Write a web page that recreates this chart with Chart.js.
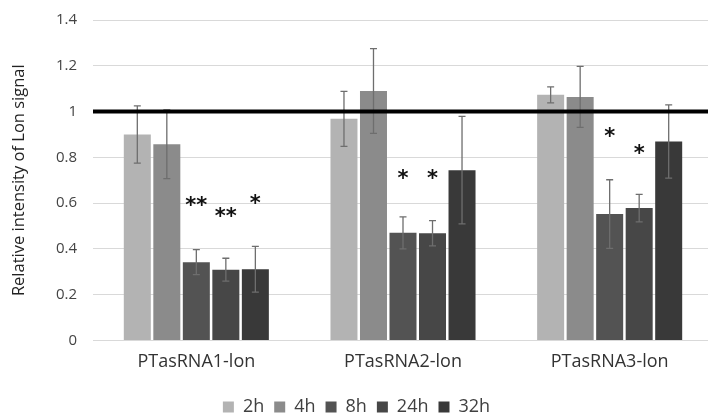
<!DOCTYPE html>
<html>
<head>
<meta charset="utf-8">
<script src="https://cdn.jsdelivr.net/npm/chart.js@4"></script>
<style>
  body { margin: 0; overflow: hidden; background: #fff; }
  #wrap { width: 716px; height: 426px; position: relative; }
</style>
</head>
<body>
<div id="wrap"><canvas id="chart"></canvas></div>
<script>
const groups = ['PTasRNA1-lon', 'PTasRNA2-lon', 'PTasRNA3-lon'];
const times = ['2h', '4h', '8h', '24h', '32h'];
const colors = ['#b3b3b3', '#8b8b8b', '#535353', '#474747', '#393939'];

// means per time point, one entry per group
const v2h = [0.90, 0.968, 1.073];
const v4h = [0.857, 1.09, 1.064];
const v8h = [0.342, 0.47, 0.552];
const v24h = [0.309, 0.468, 0.578];
const v32h = [0.311, 0.744, 0.869];

// error bar half-widths
const e2h = [0.125, 0.12, 0.035];
const e4h = [0.15, 0.185, 0.133];
const e8h = [0.055, 0.07, 0.15];
const e24h = [0.05, 0.055, 0.06];
const e32h = [0.10, 0.235, 0.16];

// significance marks and the height they sit at
const star8h = ['**', '*', '*'];
const starY8h = [0.61, 0.728, 0.91];
const star24h = ['**', '*', '*'];
const starY24h = [0.56, 0.728, 0.837];
const star32h = ['*', '', ''];
const starY32h = [0.62, null, null];

const yTicks = [0, 0.2, 0.4, 0.6, 0.8, 1, 1.2, 1.4];
const refLine = 1;

const values = [v2h, v4h, v8h, v24h, v32h];
const errors = [e2h, e4h, e8h, e24h, e32h];
const stars = [null, null, star8h, star24h, star32h];
const starY = [null, null, starY8h, starY24h, starY32h];

const font = "'Open Sans', 'Liberation Sans', sans-serif";

const extras = {
    id: 'extras',
    afterDatasetsDraw(chart) {
        const ctx = chart.ctx;
        const y = chart.scales.y;
        const area = chart.chartArea;
        ctx.save();
        // error bars
        ctx.strokeStyle = '#6e6e6e';
        ctx.lineWidth = 1.3;
        chart.data.datasets.forEach((ds, i) => {
            const meta = chart.getDatasetMeta(i);
            meta.data.forEach((bar, j) => {
                const v = ds.data[j], e = errors[i][j];
                const top = y.getPixelForValue(v + e);
                const bot = y.getPixelForValue(v - e);
                ctx.beginPath();
                ctx.moveTo(bar.x, top); ctx.lineTo(bar.x, bot);
                ctx.moveTo(bar.x - 3.5, top); ctx.lineTo(bar.x + 3.5, top);
                ctx.moveTo(bar.x - 3.5, bot); ctx.lineTo(bar.x + 3.5, bot);
                ctx.stroke();
            });
        });
        // reference line at 1
        const ry = y.getPixelForValue(refLine);
        ctx.strokeStyle = '#000';
        ctx.lineWidth = 4;
        ctx.beginPath();
        ctx.moveTo(area.left, ry);
        ctx.lineTo(area.right, ry);
        ctx.stroke();
        // asterisks
        ctx.fillStyle = '#111';
        ctx.font = "bold 21px 'DejaVu Sans', sans-serif";
        ctx.textAlign = 'center';
        ctx.textBaseline = 'alphabetic';
        chart.data.datasets.forEach((ds, i) => {
            if (!stars[i]) return;
            const meta = chart.getDatasetMeta(i);
            meta.data.forEach((bar, j) => {
                const s = stars[i][j];
                if (!s) return;
                const py = y.getPixelForValue(starY[i][j]);
                ctx.fillText(s, bar.x, py + 11);
            });
        });
        ctx.restore();
    }
};

new Chart(document.getElementById('chart'), {
    type: 'bar',
    data: {
        labels: groups,
        datasets: times.map((t, i) => ({
            label: t,
            data: values[i],
            backgroundColor: colors[i],
            borderWidth: 0,
            categoryPercentage: 0.714,
            barPercentage: 0.915
        }))
    },
    options: {
        responsive: true,
        maintainAspectRatio: false,
        animation: false,
        layout: { padding: { top: 20, right: 3, left: 0, bottom: 0 } },
        plugins: {
            tooltip: { enabled: false },
            legend: {
                position: 'bottom',
                labels: {
                    boxWidth: 11,
                    boxHeight: 11,
                    padding: 10,
                    color: '#404040',
                    font: { family: font, size: 18 }
                }
            }
        },
        scales: {
            x: {
                grid: { display: false },
                border: { display: false },
                afterFit: s => { s.height += 12; },
                ticks: { color: '#333', font: { family: font, size: 18 }, padding: 3 }
            },
            y: {
                min: 0,
                max: 1.4,
                afterBuildTicks: s => { s.ticks = yTicks.map(v => ({ value: v })); },
                afterFit: s => { s.width = 93; },
                // invisible tick marks space the labels away from the plot;
                // tick padding would also push the plot top down
                grid: { color: '#d9d9d9', lineWidth: 1, drawTicks: true, tickLength: 16, tickColor: 'rgba(0,0,0,0)' },
                border: { display: false },
                ticks: {
                    color: '#444',
                    padding: 0,
                    font: { family: font, size: 15 },
                    callback: v => String(+v.toFixed(1))
                },
                title: {
                    display: true,
                    text: 'Relative intensity of Lon signal',
                    color: '#222',
                    font: { family: font, size: 16.5 },
                    padding: { top: 9, bottom: 0 }
                }
            }
        }
    },
    plugins: [extras]
});
</script>
</body>
</html>
